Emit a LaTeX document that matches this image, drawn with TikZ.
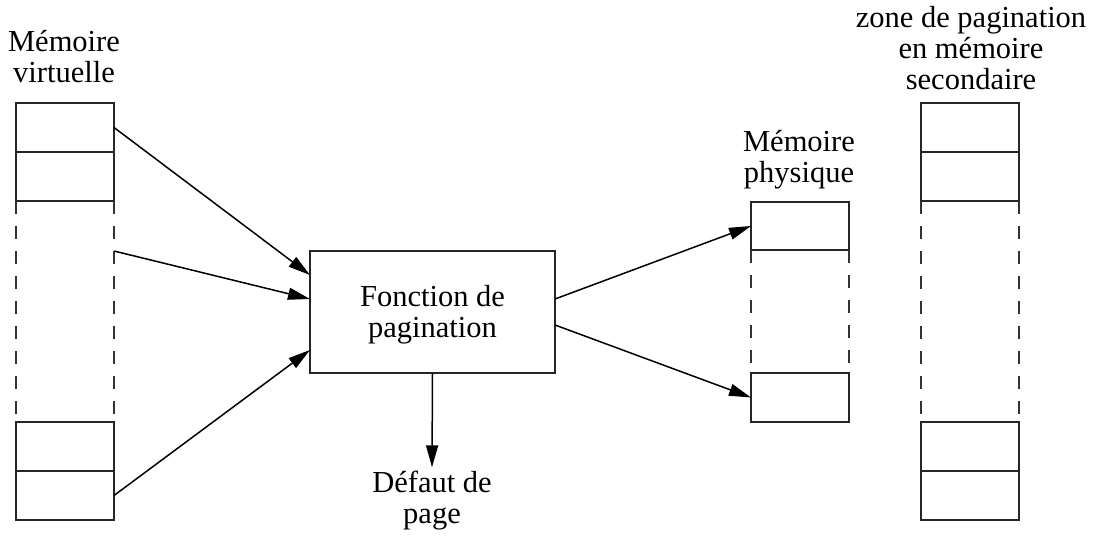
\documentclass[tikz,border=0pt]{standalone}
\usepackage{fontspec}
\setmainfont{Liberation Serif}
\usetikzlibrary{arrows.meta,calc}
\begin{document}
\begin{tikzpicture}[x=1pt,y=-1pt,
  cell/.style={draw=black!85, line width=1.6pt, minimum width=98pt, minimum height=49pt, inner sep=0pt, outer sep=0pt},
  dashline/.style={draw=black!80, line width=1.6pt, dash pattern=on 13pt off 12pt},
  arr/.style={-{Triangle[length=22pt,width=12pt]}, line width=1.5pt},
  lbl/.style={align=center, font=\fontsize{30.5}{31}\selectfont, inner sep=0pt}]
\useasboundingbox (0,0) rectangle (1094,537);
% virtual memory
\node[cell] (v1) at (65,127.5) {};
\node[cell] (v2) at (65,176.5) {};
\node[cell] (v3) at (65,446.5) {};
\node[cell] (v4) at (65,495.5) {};
\draw[dashline] (v2.south west) -- (v3.north west);
\draw[dashline] (v2.south east) -- (v3.north east);
% physical memory
\node[cell, minimum height=48pt] (p1) at (800,226) {};
\node[cell] (p2) at (800,397.5) {};
\draw[dashline] (p1.south west) -- (p2.north west);
\draw[dashline] (p1.south east) -- (p2.north east);
% secondary
\node[cell] (s1) at (970,127.5) {};
\node[cell] (s2) at (970,176.5) {};
\node[cell] (s3) at (970,446.5) {};
\node[cell] (s4) at (970,495.5) {};
\draw[dashline] (s2.south west) -- (s3.north west);
\draw[dashline] (s2.south east) -- (s3.north east);
% function
\node[cell, minimum width=245pt, minimum height=122pt] (fp) at (432.5,312) {};
\node[lbl, anchor=base] (fpt) at (fp.center |- 0,337) {Fonction de\\pagination};
% labels
\node[lbl, anchor=base] (lv) at (64,83) {Mémoire\\virtuelle};
\node[lbl, anchor=base] (lp) at (799,183) {Mémoire\\physique};
\node[lbl, anchor=base] (ls) at (971,90) {zone de pagination\\en mémoire\\secondaire};
\node[lbl, anchor=base] (dp) at (432,523) {Défaut de\\page};
% arrows
\coordinate (va) at (114,251);
\draw[arr] (v1.east) -- ($(fp.west)+(0,-37)$);
\draw[arr] (va) -- ($(fp.west)+(0,-13)$);
\draw[arr] (v4.east) -- ($(fp.west)+(0,38)$);
\draw[arr] ($(fp.east)+(0,-13)$) -- (p1.west);
\draw[arr] ($(fp.east)+(0,13)$) -- (p2.west);
\draw[arr] (fp.south) -- ($(dp.north)+(0,-3)$);
\end{tikzpicture}
\end{document}
